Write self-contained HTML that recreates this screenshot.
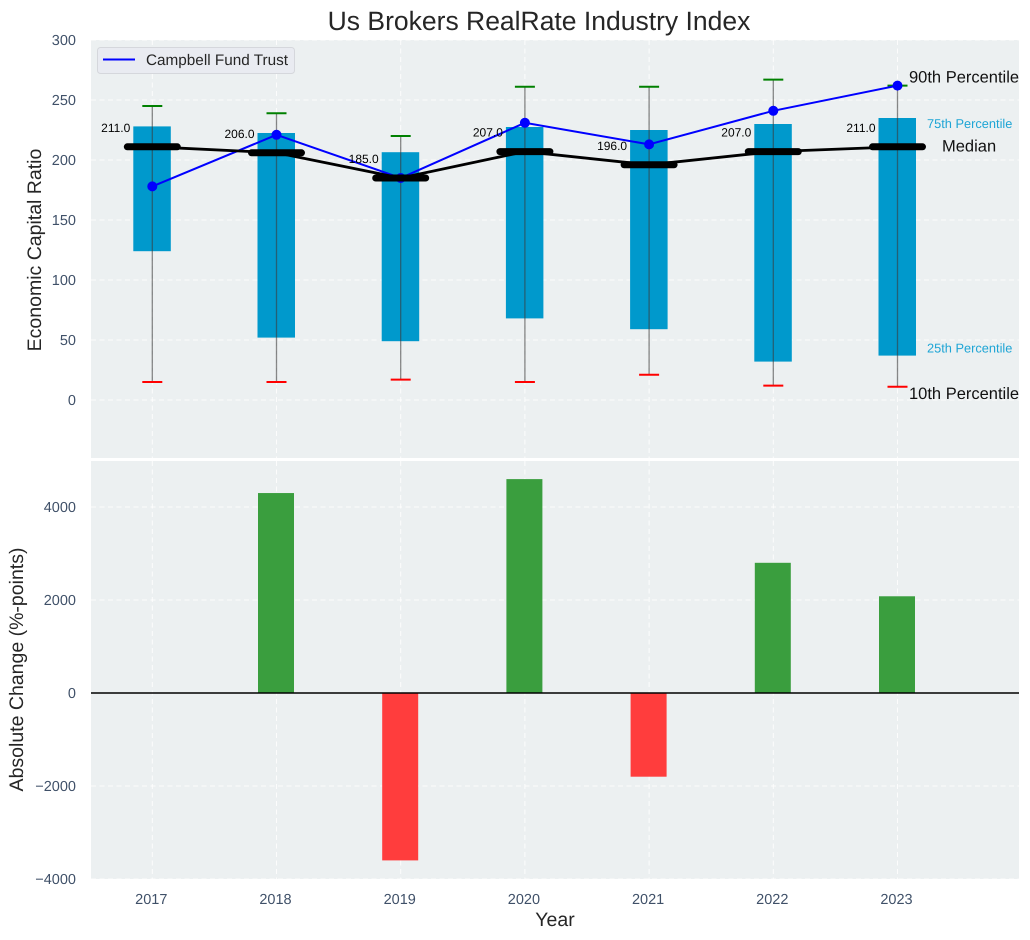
<!DOCTYPE html>
<html>
<head>
<meta charset="utf-8">
<title>Us Brokers RealRate Industry Index</title>
<style>
html,body{margin:0;padding:0;background:#fff;}
svg{display:block;font-family:"Liberation Sans",Arial,sans-serif;text-rendering:geometricPrecision;}
</style>
</head>
<body>
<svg id="chart" xmlns="http://www.w3.org/2000/svg" width="1030" height="940" viewBox="0 0 1030 940">
  <rect x="91" y="40" width="928" height="418" fill="#ecf0f1"/>
  <rect x="91" y="461" width="928" height="418" fill="#ecf0f1"/>
  <g id="grid"></g>
  <g id="bars"></g>
  <g id="marks"></g>
  <g id="labels"></g>
  <text x="539" y="30" font-size="26.5" text-anchor="middle" fill="#262626">Us Brokers RealRate Industry Index</text>
  <text transform="translate(41,250) rotate(-90)" font-size="19.5" text-anchor="middle" fill="#262626">Economic Capital Ratio</text>
  <text transform="translate(23,669.5) rotate(-90)" font-size="19.5" text-anchor="middle" fill="#262626">Absolute Change (%-points)</text>
  <text x="555" y="926" font-size="19.5" text-anchor="middle" fill="#262626">Year</text>
  <g>
    <rect x="97.5" y="47.5" width="197" height="26" rx="3" fill="#e9ebf1" stroke="#d5d7dc"/>
    <line x1="103" y1="59.5" x2="135" y2="59.5" stroke="#0000ff" stroke-width="2"/>
    <text x="146" y="65" font-size="15.3" fill="#262626">Campbell Fund Trust</text>
  </g>
</svg>
<script>
const years = [2017, 2018, 2019, 2020, 2021, 2022, 2023];
const p90 = [245, 239, 220, 261, 261, 267, 262];
const p75 = [228, 222.5, 206.5, 227.5, 225, 230, 235];
const medians = [211, 206, 185, 207, 196, 207, 211];
const p25 = [124, 52, 49, 68, 59, 32, 37];
const p10 = [15, 15, 17, 15, 21, 12, 11];
const campbell = [178, 221, 185, 231, 213, 241, 262];
const changeYears = [2018, 2019, 2020, 2021, 2022, 2023];
const changes = [4300, -3600, 4600, -1800, 2800, 2080];
const topTicks = [0, 50, 100, 150, 200, 250, 300];
const bottomTicks = [-4000, -2000, 0, 2000, 4000];

const NS = 'http://www.w3.org/2000/svg';
function x(v) { return 152.3 + (v - 2017) * 124.2; }
function yTop(v) { return 400 - v * 1.2; }
function yBottom(v) { return 693 - v * 0.0465; }
function mk(parent, tag, attrs, text) {
  const el = document.createElementNS(NS, tag);
  for (const k in attrs) el.setAttribute(k, attrs[k]);
  if (text !== undefined) el.textContent = text;
  document.getElementById(parent).appendChild(el);
  return el;
}
const tickColor = '#3f5068';
const gridStyle = { stroke: '#ffffff', 'stroke-width': 1, 'stroke-dasharray': '5,3.5', opacity: 0.85 };

topTicks.forEach(function (t) {
  const g = mk('grid', 'line', Object.assign({ x1: 91, x2: 1019, y1: yTop(t), y2: yTop(t) }, gridStyle));
  
  
  const l = mk('labels', 'text', { x: 76, y: yTop(t) + 5, 'font-size': 14.5, 'text-anchor': 'end', fill: tickColor }, String(t));
  
  
});
bottomTicks.forEach(function (t) {
  const g = mk('grid', 'line', Object.assign({ x1: 91, x2: 1019, y1: yBottom(t), y2: yBottom(t) }, gridStyle));
  
  
  const l = mk('labels', 'text', { x: 76, y: yBottom(t) + 5, 'font-size': 14.5, 'text-anchor': 'end', fill: tickColor }, String(t).replace('-', '\u2212'));
  
  
});
years.forEach(function (yr) {
  const a = mk('grid', 'line', Object.assign({ x1: x(yr), x2: x(yr), y1: 40, y2: 458 }, gridStyle));
  
  
  const b = mk('grid', 'line', Object.assign({ x1: x(yr), x2: x(yr), y1: 461, y2: 879 }, gridStyle));
  
  
  const l = mk('labels', 'text', { x: x(yr) - 1, y: 904, 'font-size': 14.5, 'text-anchor': 'middle', fill: tickColor }, String(yr));
  
  
});

changes.forEach(function (v, i) {
  const cx = x(changeYears[i]) - 0.5;
  const top = Math.min(yBottom(v), yBottom(0));
  const r = mk('bars', 'rect', { x: cx - 18, y: top, width: 36, height: Math.abs(yBottom(v) - yBottom(0)), fill: v >= 0 ? '#3a9e3e' : '#ff3d3d' });
  
  
});
const zero = mk('marks', 'line', { x1: 91, x2: 1019, y1: yBottom(0), y2: yBottom(0), stroke: '#000', 'stroke-width': 1.5 });



years.forEach(function (yr, i) {
  const cx = x(yr);
  const box = mk('bars', 'rect', { x: cx - 19, y: yTop(p75[i]), width: 37.5, height: yTop(p25[i]) - yTop(p75[i]), fill: '#0099cc' });
  
  
  const w = mk('bars', 'line', { x1: cx, x2: cx, y1: yTop(p90[i]), y2: yTop(p10[i]), stroke: '#3a3a3a', 'stroke-opacity': 0.6, 'stroke-width': 1.3 });
  
  
  const hi = mk('bars', 'line', { x1: cx - 10, x2: cx + 10, y1: yTop(p90[i]), y2: yTop(p90[i]), stroke: '#008000', 'stroke-width': 2 });
  
  
  const lo = mk('bars', 'line', { x1: cx - 10, x2: cx + 10, y1: yTop(p10[i]), y2: yTop(p10[i]), stroke: '#ff0000', 'stroke-width': 2 });
  
  
});

const campbellLine = mk('marks', 'polyline', { points: years.map(function (yr, i) { return x(yr) + ',' + yTop(campbell[i]); }).join(' '), fill: 'none', stroke: '#0000ff', 'stroke-width': 2 });


years.forEach(function (yr, i) {
  const p = mk('marks', 'circle', { cx: x(yr), cy: yTop(campbell[i]), r: 5, fill: '#0000ff' });
  
  
});

const medianLine = mk('marks', 'polyline', { points: years.map(function (yr, i) { return x(yr) + ',' + yTop(medians[i]); }).join(' '), fill: 'none', stroke: '#000', 'stroke-width': 2.8 });


years.forEach(function (yr, i) {
  const cx = x(yr);
  const m = mk('marks', 'line', { x1: cx - 25, x2: cx + 25, y1: yTop(medians[i]), y2: yTop(medians[i]), stroke: '#000', 'stroke-width': 7, 'stroke-linecap': 'round' });
  
  
  const t = mk('labels', 'text', { x: cx - 22, y: yTop(medians[i]) - 15, 'font-size': 12, 'text-anchor': 'end', fill: '#000' }, medians[i].toFixed(1));
  
  
});

const n = years.length - 1;
const lastX = x(years[n]);
const a90 = mk('labels', 'text', { x: lastX + 11.5, y: yTop(p90[n]) - 3, 'font-size': 16.5, fill: '#111' }, '90th Percentile');


const a75 = mk('labels', 'text', { x: lastX + 29.5, y: yTop(p75[n]) + 10, 'font-size': 12.8, fill: '#1ea5d5' }, '75th Percentile');


const aMed = mk('labels', 'text', { x: lastX + 44.5, y: yTop(medians[n]) + 4.5, 'font-size': 16.5, fill: '#111' }, 'Median');


const a25 = mk('labels', 'text', { x: lastX + 29.5, y: yTop(p25[n]) - 3, 'font-size': 12.8, fill: '#1ea5d5' }, '25th Percentile');


const a10 = mk('labels', 'text', { x: lastX + 11.5, y: yTop(p10[n]) + 12, 'font-size': 16.5, fill: '#111' }, '10th Percentile');


</script>
</body>
</html>
